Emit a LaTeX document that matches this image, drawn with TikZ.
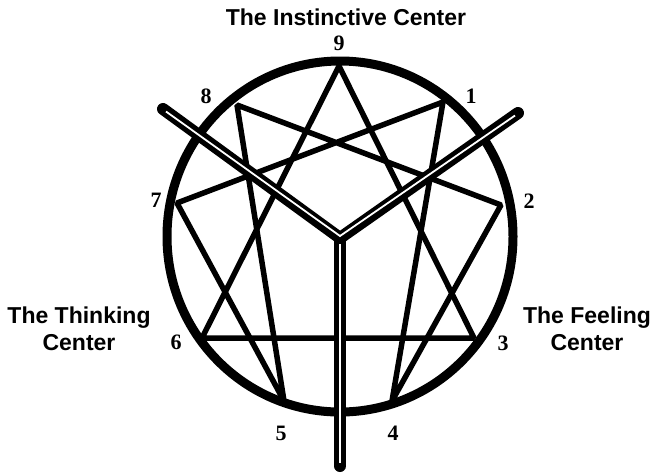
\documentclass[tikz,border=0pt]{standalone}
\usepackage{fontspec}
\setmainfont{Liberation Serif}
\newfontfamily\labfont{Liberation Sans}
\begin{document}
\begin{tikzpicture}[x=1pt,y=-1pt,
  rim/.style={line width=9pt},
  starline/.style={line width=5.5pt,line join=bevel},
  barblack/.style={line width=12pt,line cap=round,line join=miter},
  barwhite/.style={line width=1.8pt,white,line join=miter},
  num/.style={font=\bfseries\fontsize{22}{22}\selectfont,inner sep=0pt},
  center/.style={font=\labfont\bfseries\fontsize{23}{27}\selectfont,align=center,inner sep=0pt}]
\useasboundingbox (0,0) rectangle (652,475);
% rim
\draw[rim] (340,236.5) ellipse [x radius=173, y radius=175.5];
% points
\coordinate (p9) at (339,66);
\coordinate (p1) at (443,102);
\coordinate (p2) at (501,205);
\coordinate (p3) at (474,338);
\coordinate (p4) at (392,401);
\coordinate (p5) at (284,401);
\coordinate (p6) at (202,338);
\coordinate (p7) at (177,203);
\coordinate (p8) at (237,105);
% star lines
\draw[starline] (p9) -- (p3) -- (p6) -- cycle;
\draw[starline] (p1) -- (p4) -- (p2) -- (p8) -- (p5) -- (p7) -- cycle;
% Y bar
\coordinate (L) at (163,109);
\coordinate (R) at (518,113);
\coordinate (J) at (340,238);
\coordinate (B) at (340,466);
\coordinate (Lw) at (166,111.5);
\coordinate (Rw) at (515,115.5);
\coordinate (Jw) at (340,236);
\coordinate (Sw) at (340,244);
\coordinate (Bw) at (340,463);
\draw[barblack] (L) -- (J) -- (R);
\draw[barblack] (J) -- (B);
\draw[barwhite] (Lw) -- (Jw) -- (Rw);
\draw[barwhite] (Sw) -- (Bw);
% numbers
\node[num] (n9) at (339,43) {9};
\node[num] (n1) at (471,96) {1};
\node[num] (n2) at (529,201) {2};
\node[num] (n3) at (503,343) {3};
\node[num] (n4) at (393,433) {4};
\node[num] (n5) at (281,433) {5};
\node[num] (n6) at (176,342) {6};
\node[num] (n7) at (156,200) {7};
\node[num] (n8) at (206,96) {8};
% centers
\node[center] (ci) at (346,17) {The Instinctive Center};
\node[center] (ct) at (79,329) {The Thinking\\Center};
\node[center] (cf) at (587,329) {The Feeling\\Center};
\end{tikzpicture}
\end{document}
